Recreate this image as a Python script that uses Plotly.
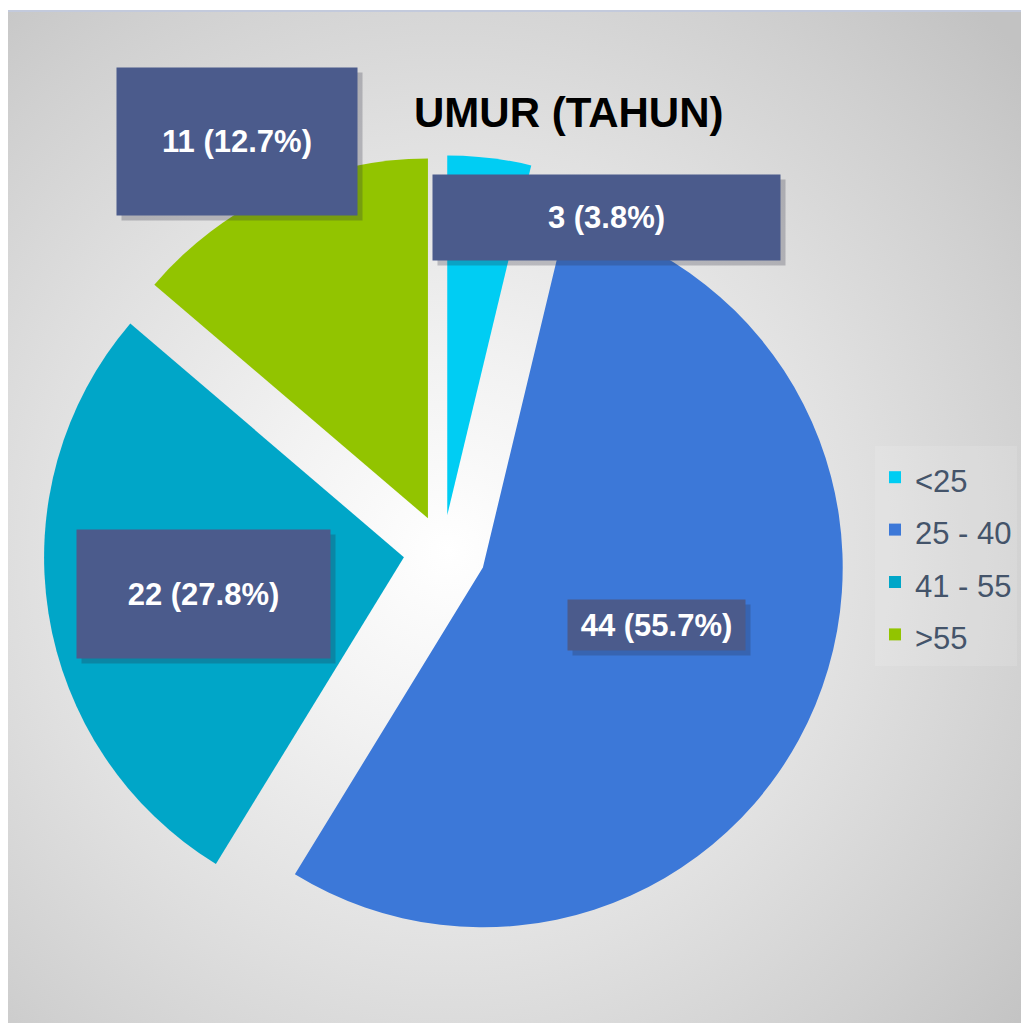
import base64
import plotly.graph_objects as go

# ---- data ----
categories = ["<25", "25 - 40", "41 - 55", ">55"]
counts = [3, 44, 22, 11]
label_texts = ["3 (3.8%)", "44 (55.7%)", "22 (27.8%)", "11 (12.7%)"]
colors = ["#00CDF3", "#3C78D8", "#00A6C8", "#92C400"]
pulls = [0.10, 0.12, 0.11, 0.10]

# ---- layout (page pixels; the page body has an 8px margin) ----
OFF = 8
W, H = 1021, 1015
# label box: center x, center y (page px), width, height
label_boxes = [
    (606, 217, 347, 85),
    (656, 625, 177, 50),
    (203, 594, 253, 128),
    (237, 141, 240, 147),
]

def px(x):
    return (x - OFF) / W

def py(y):
    return 1 - (y - OFF) / H

# radial gradient background as SVG
BW, BH = W, H - 3
svg = f'''<svg xmlns="http://www.w3.org/2000/svg" width="{BW}" height="{BH}" viewBox="0 0 {BW} {BH}">
<defs><radialGradient id="g" gradientUnits="userSpaceOnUse" cx="440" cy="540" r="760">
<stop offset="0" stop-color="#FFFFFF"/>
<stop offset="0.25" stop-color="#F2F2F2"/>
<stop offset="0.55" stop-color="#E0E0E0"/>
<stop offset="0.8" stop-color="#D0D0D0"/>
<stop offset="1" stop-color="#C2C2C2"/>
</radialGradient></defs>
<rect x="0" y="0" width="{BW}" height="{BH}" fill="url(#g)"/>
</svg>'''
svg_uri = "data:image/svg+xml;base64," + base64.b64encode(svg.encode()).decode()

fig = go.Figure()
fig.add_trace(go.Pie(
    labels=[f'<span style="font-size:31px">{c}</span>' for c in categories],
    values=counts,
    sort=False,
    direction="clockwise",
    rotation=0,
    pull=pulls,
    marker=dict(colors=colors, line=dict(width=0)),
    textinfo="none",
    hovertext=categories,
    hoverinfo="text+value",
    domain=dict(x=[px(40), px(846)], y=[py(954), py(148)]),
))

annotations = []
for (cx, cy, bw, bh), txt in zip(label_boxes, label_texts):
    # shadow
    annotations.append(dict(
        x=px(cx + 5), y=py(cy + 5), xref="paper", yref="paper",
        text="", showarrow=False, width=bw, height=bh,
        bgcolor="rgba(40,40,60,0.25)", borderpad=0,
        xanchor="center", yanchor="middle",
    ))
    annotations.append(dict(
        x=px(cx), y=py(cy), xref="paper", yref="paper",
        text=f"<b>{txt}</b>", showarrow=False, width=bw, height=bh,
        bgcolor="#4B5B8C", borderpad=0,
        font=dict(family="Liberation Sans, Arial, sans-serif", size=31, color="#FFFFFF"),
        xanchor="center", yanchor="middle", align="center", valign="middle",
    ))

annotations.append(dict(
    x=px(568), y=py(112), xref="paper", yref="paper",
    text="<b>UMUR (TAHUN)</b>", showarrow=False,
    font=dict(family="Liberation Sans, Arial, sans-serif", size=42, color="#000000"),
    xanchor="center", yanchor="middle",
))

fig.update_layout(
    width=W, height=H,
    margin=dict(l=0, r=0, t=0, b=0),
    paper_bgcolor="#FFFFFF",
    plot_bgcolor="#FFFFFF",
    showlegend=True,
    legend=dict(
        x=px(875), y=py(556), xanchor="left", yanchor="middle",
        font=dict(family="Liberation Sans, Arial, sans-serif", size=38, color="#44546A"),
        bgcolor="rgba(255,255,255,0.12)",
        itemwidth=30, tracegroupgap=0,
    ),
    images=[dict(
        source=svg_uri, xref="paper", yref="paper",
        x=0, y=py(11), sizex=1, sizey=py(11) - py(OFF + H),
        xanchor="left", yanchor="top", sizing="stretch", layer="below",
    )],
    shapes=[dict(
        type="line", xref="paper", yref="paper",
        x0=0, x1=1, y0=py(11), y1=py(11),
        line=dict(color="#C3CADC", width=2), layer="below",
    )],
    annotations=annotations,
)

fig.write_html("out.html")
